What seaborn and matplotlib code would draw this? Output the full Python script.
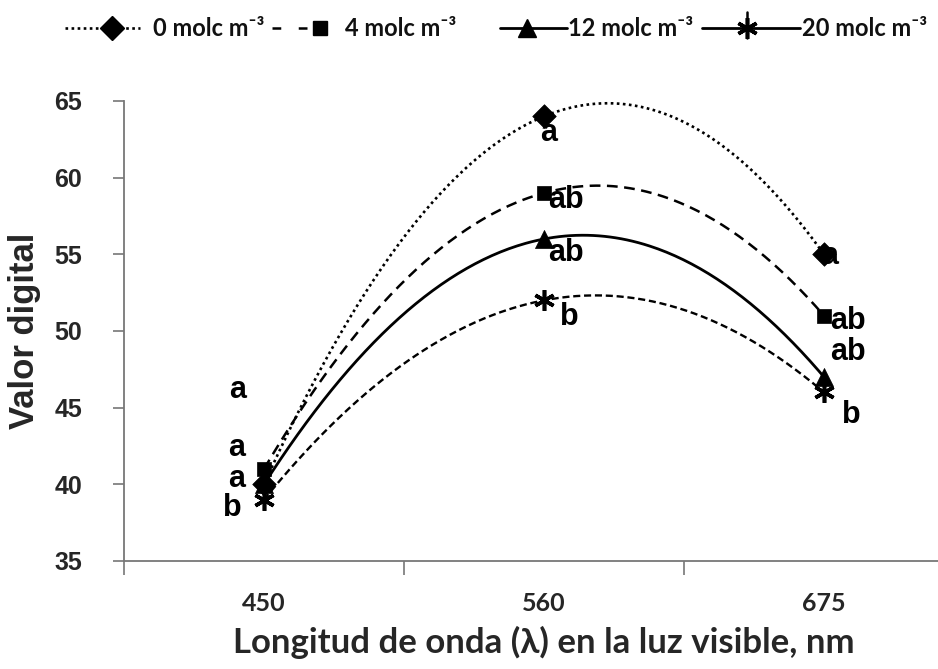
import numpy as np
import pandas as pd
import matplotlib
matplotlib.use("Agg")
import matplotlib.pyplot as plt
import seaborn as sns
from matplotlib.lines import Line2D
from matplotlib.markers import MarkerStyle

# Wavelength categories (nm) and digital values per salinity level
wavelengths = ["450", "560", "675"]
levels = ["0 molc m⁻³", "4 molc m⁻³", "12 molc m⁻³", "20 molc m⁻³"]
values_0 = [40, 64, 55]
values_4 = [41, 59, 51]
values_12 = [40, 56, 47]
values_20 = [39, 52, 46]
# Significance letters for each level at each wavelength
letters_0 = ["a", "a", "a"]
letters_4 = ["a", "ab", "ab"]
letters_12 = ["a", "ab", "ab"]
letters_20 = ["b", "b", "b"]

series_values = [values_0, values_4, values_12, values_20]
series_letters = [letters_0, letters_4, letters_12, letters_20]

sns.set_style("white")
plt.rcParams["font.family"] = ["Liberation Sans", "DejaVu Sans"]
ROUND = ["Lato", "DejaVu Sans"]

W, H = 938, 669
fig = plt.figure(figsize=(W / 100, H / 100), dpi=100)
ax = fig.add_axes([124 / W, (H - 561) / H, 840 / W, 460 / H])

star = MarkerStyle((6, 2, 0))
markers = ["D", "s", "^", star]
msizes = [12, 10, 13, 15]
curve_styles = [
    dict(linestyle=(0, (1.0, 1.3)), linewidth=1.9),
    dict(linestyle=(0, (4.3, 2.6)), linewidth=1.8),
    dict(linestyle="-", linewidth=2.0),
    dict(linestyle=(0, (3.0, 1.6)), linewidth=1.7),
]

xi = np.arange(len(wavelengths))
frames = []
for name, vals in zip(levels, series_values):
    frames.append(pd.DataFrame({"idx": xi, "valor": vals, "nivel": name}))
data = pd.concat(frames, ignore_index=True)

# Second-order polynomial trend through each level's points
grid = np.linspace(0, 2, 200)
for i, name in enumerate(levels):
    sub = data[data["nivel"] == name]
    coef = np.polyfit(sub["idx"], sub["valor"], 2)
    fit = pd.DataFrame({"idx": grid, "valor": np.polyval(coef, grid)})
    sns.lineplot(data=fit, x="idx", y="valor", ax=ax, color="black",
                 **curve_styles[i], clip_on=False)

for i, name in enumerate(levels):
    sub = data[data["nivel"] == name]
    if i == 3:
        ax.plot(sub["idx"], sub["valor"], linestyle="none", marker=star,
                markersize=msizes[i], markeredgewidth=2.6, color="black",
                clip_on=False, zorder=5)
    else:
        sns.scatterplot(data=sub, x="idx", y="valor", ax=ax, marker=markers[i],
                        s=msizes[i] ** 2, color="black", edgecolor="black",
                        linewidth=0.5, zorder=5, clip_on=False, legend=False)

# Letter placement offsets (points) relative to each marker
letter_offsets = [
    [(-19, 68), (3, -12), (4, -1)],
    [(-20, 15), (16, -5), (17, -4)],
    [(-20, 4), (16, -10), (17, 18)],
    [(-23, -6), (18, -12), (20, -16)],
]
for i in range(len(levels)):
    for j in range(len(wavelengths)):
        ax.annotate(series_letters[i][j], (xi[j], series_values[i][j]),
                    xytext=letter_offsets[i][j], textcoords="offset points",
                    ha="center", va="center", fontsize=22, fontweight="bold",
                    color="black", zorder=6)

ax.set_xlim(-0.5, 2.5)
ax.set_ylim(35, 65)
ax.set_yticks(np.arange(35, 66, 5))
ax.set_xticks(xi)
ax.set_xticklabels(wavelengths)
ax.set_xticks([-0.5, 0.5, 1.5], minor=True)
ax.tick_params(axis="x", which="major", bottom=True, length=0, pad=22)
ax.tick_params(axis="x", which="minor", bottom=True, length=10, width=1.2,
               color="#777777", direction="out")
ax.tick_params(axis="y", left=True, length=8, width=1.2, color="#777777",
               direction="out", pad=22)
for lab in ax.get_yticklabels():
    lab.set_fontsize(18)
    lab.set_fontweight("bold")
for lab in ax.get_xticklabels():
    lab.set_fontfamily(ROUND)
    lab.set_fontsize(18)
    lab.set_fontweight("bold")

for side in ["top", "right"]:
    ax.spines[side].set_visible(False)
for side in ["left", "bottom"]:
    ax.spines[side].set_color("#777777")
    ax.spines[side].set_linewidth(1.3)

ax.set_ylabel("Valor digital", fontsize=25, fontweight="bold", labelpad=10)
ax.set_xlabel("Longitud de onda (λ) en la luz visible, nm", fontsize=25,
              fontweight="bold", labelpad=8, fontfamily=ROUND)

# Legend row drawn along the top of the figure
def fx(px):
    return px / W

def fy(py):
    return 1 - py / H

ly = 28
leg_lines = [
    dict(x0=65, x1=140, mx=112, tx=153, ls=(0, (1.0, 1.3)), lw=1.9),
    dict(x0=272, x1=320, mx=320, tx=345, ls=(0, (3.5, 7)), lw=1.8),
    dict(x0=500, x1=567, mx=527, tx=568, ls="-", lw=2.0),
    dict(x0=702, x1=800, mx=747, tx=802, ls="-", lw=2.0),
]
for i, spec in enumerate(leg_lines):
    fig.add_artist(Line2D([fx(spec["x0"]), fx(spec["x1"])], [fy(ly), fy(ly)],
                          transform=fig.transFigure, color="black",
                          linestyle=spec["ls"], linewidth=spec["lw"]))
    if i == 3:
        fig.add_artist(Line2D([fx(spec["mx"])], [fy(ly)], transform=fig.transFigure,
                              marker=star, markersize=msizes[i],
                              markeredgewidth=2.6, color="black", linestyle="none"))
        fig.add_artist(Line2D([fx(spec["mx"]), fx(spec["mx"])], [fy(12), fy(38)],
                              transform=fig.transFigure, color="black", linewidth=1.8))
    else:
        fig.add_artist(Line2D([fx(spec["mx"])], [fy(ly)], transform=fig.transFigure,
                              marker=markers[i], markersize=msizes[i],
                              color="black", linestyle="none"))
    fig.text(fx(spec["tx"]), fy(ly), levels[i], ha="left", va="center",
             fontsize=17, fontweight="bold", fontfamily=ROUND, color="#111111")

fig.savefig("out.png", dpi=100)
